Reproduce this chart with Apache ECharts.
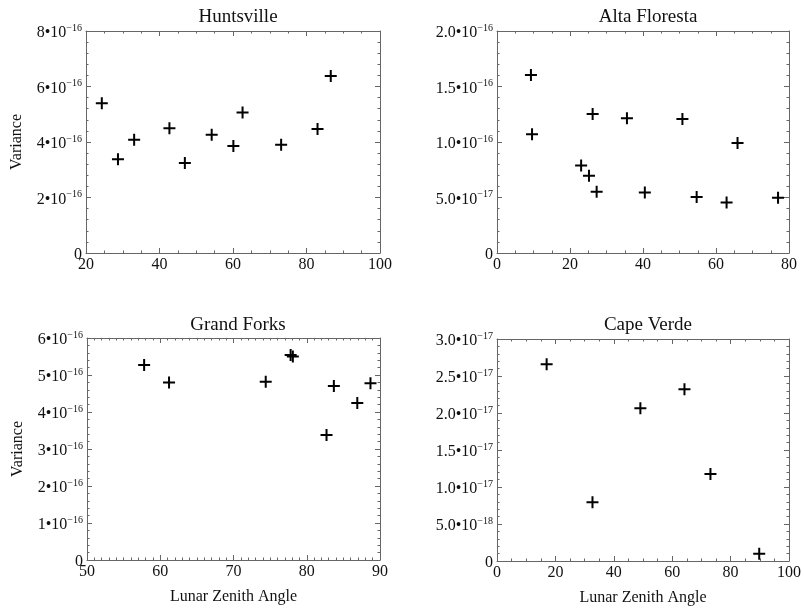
<!DOCTYPE html>
<html><head><meta charset="utf-8">
<script src="https://cdn.jsdelivr.net/npm/echarts@6/dist/echarts.min.js"></script>
<style>html,body{margin:0;padding:0;background:#fff}#c{width:804px;height:610px}</style>
</head><body><div id="c"></div>
<script>
// ---- data ----
const titles = ['Huntsville', 'Alta Floresta', 'Grand Forks', 'Cape Verde'];
const huntsvilleX = [24.3, 28.7, 33.1, 42.7, 46.9, 54.2, 60.1, 62.6, 73.1, 83.0, 86.6];
const huntsvilleY = [5.40e-16, 3.38e-16, 4.08e-16, 4.50e-16, 3.24e-16, 4.26e-16, 3.86e-16, 5.06e-16, 3.90e-16, 4.47e-16, 6.38e-16];
const altaX = [9.3, 9.6, 23.05, 25.2, 27.3, 26.2, 35.6, 40.5, 50.8, 54.7, 62.9, 65.9, 77.0];
const altaY = [1.604e-16, 1.07e-16, 7.89e-17, 6.96e-17, 5.52e-17, 1.253e-16, 1.214e-16, 5.46e-17, 1.208e-16, 5.04e-17, 4.56e-17, 9.9e-17, 4.98e-17];
const grandX = [57.8, 61.2, 74.4, 77.8, 78.1, 82.7, 83.7, 86.9, 88.7];
const grandY = [5.27e-16, 4.80e-16, 4.82e-16, 5.54e-16, 5.50e-16, 3.38e-16, 4.70e-16, 4.24e-16, 4.78e-16];
const capeX = [17.0, 32.7, 49.1, 64.2, 73.1, 89.8];
const capeY = [2.66e-17, 7.95e-18, 2.065e-17, 2.32e-17, 1.175e-17, 0.99e-18];
// axis ranges: [min, max, interval, minorSplit]
const xRanges = [[20, 100, 20, 4], [0, 80, 20, 4], [50, 90, 10, 10], [0, 100, 20, 4]];
const yRanges = [[0, 8e-16, 2e-16, 5], [0, 2e-16, 5e-17, 5], [0, 6e-16, 1e-16, 5], [0, 3e-17, 5e-18, 5]];
const yDecimals = [0, 1, 0, 1];
const xName = 'Lunar Zenith Angle';
const yName = 'Variance';

const seriesX = [huntsvilleX, altaX, grandX, capeX];
const seriesY = [huntsvilleY, altaY, grandY, capeY];

const FONT = '"Liberation Serif", "Times New Roman", serif';
const grids = [
  {left: 86, top: 31, width: 294, height: 222},
  {left: 497, top: 31, width: 292, height: 222},
  {left: 87, top: 338, width: 293, height: 222},
  {left: 497, top: 339, width: 293, height: 222}
];
const titlePos = [[233, 3], [643, 3], [233, 311], [643, 311]];

function sciFormatter(dec) {
  return function (v) {
    if (Math.abs(v) < 1e-30) return '{m|0}';
    const e = Math.floor(Math.log10(Math.abs(v)) + 1e-9);
    const m = v / Math.pow(10, e);
    return '{m|' + m.toFixed(dec) + '•10}{e|−' + (-e) + '}';
  };
}

const cross = 'path://M5,0L7,0L7,12L5,12Z M0,5L12,5L12,7L0,7Z';
const axisColor = '#666';

const option = {
  animation: false,
  backgroundColor: '#fff',
  title: titles.map((t, i) => ({
    text: t, left: titlePos[i][0], top: titlePos[i][1], textAlign: 'center',
    textStyle: {fontFamily: FONT, fontSize: 19, fontWeight: 'normal', color: '#111'}
  })),
  grid: grids,
  xAxis: [], yAxis: [], series: []
};

for (let i = 0; i < 4; i++) {
  const xr = xRanges[i], yr = yRanges[i];
  const common = {
    gridIndex: i, type: 'value', splitLine: {show: false},
    axisLine: {show: true, onZero: false, lineStyle: {color: axisColor, width: 1}},
    axisTick: {show: true, inside: true, length: 5, lineStyle: {color: axisColor}},
    minorTick: {show: true, length: 2.5, lineStyle: {color: axisColor}},
  };
  const bottom = i >= 2;
  option.xAxis.push(Object.assign({}, common, {
    position: 'bottom', min: xr[0], max: xr[1], interval: xr[2],
    minorTick: Object.assign({}, common.minorTick, {splitNumber: xr[3]}),
    axisLabel: {show: true, margin: 4, color: '#111', fontFamily: FONT, fontSize: 16},
    name: bottom ? xName : '', nameLocation: 'middle', nameGap: 29,
    nameTextStyle: {fontFamily: FONT, fontSize: 16, color: '#111'}
  }));
  option.xAxis.push(Object.assign({}, common, {
    position: 'top', min: xr[0], max: xr[1], interval: xr[2],
    minorTick: Object.assign({}, common.minorTick, {splitNumber: xr[3]}),
    axisLabel: {show: false}
  }));
  const leftCol = (i % 2 === 0);
  option.yAxis.push(Object.assign({}, common, {
    position: 'left', min: yr[0], max: yr[1], interval: yr[2],
    minorTick: Object.assign({}, common.minorTick, {splitNumber: yr[3]}),
    axisLabel: {
      show: true, margin: 4, formatter: sciFormatter(yDecimals[i]),
      rich: {
        m: {fontFamily: FONT, fontSize: 16, color: '#111', lineHeight: 20, verticalAlign: 'bottom', padding: [3, 0, 0, 0]},
        e: {fontFamily: FONT, fontSize: 10, color: '#111', lineHeight: 12, verticalAlign: 'top', padding: [2, 0, 0, 0]}
      }
    },
    name: leftCol ? yName : '', nameLocation: 'middle', nameGap: 61, nameRotate: 90,
    nameTextStyle: {fontFamily: FONT, fontSize: 16, color: '#111'}
  }));
  option.yAxis.push(Object.assign({}, common, {
    position: 'right', min: yr[0], max: yr[1], interval: yr[2],
    minorTick: Object.assign({}, common.minorTick, {splitNumber: yr[3]}),
    axisLabel: {show: false}
  }));
  option.series.push({
    type: 'scatter', xAxisIndex: 2 * i, yAxisIndex: 2 * i,
    data: seriesX[i].map((x, k) => [x, seriesY[i][k]]),
    symbol: cross, symbolSize: 12,
    itemStyle: {color: '#000', opacity: 1}
  });
}

const chart = echarts.init(document.getElementById('c'), null, {renderer: 'canvas'});
chart.setOption(option);
</script>
</body></html>
